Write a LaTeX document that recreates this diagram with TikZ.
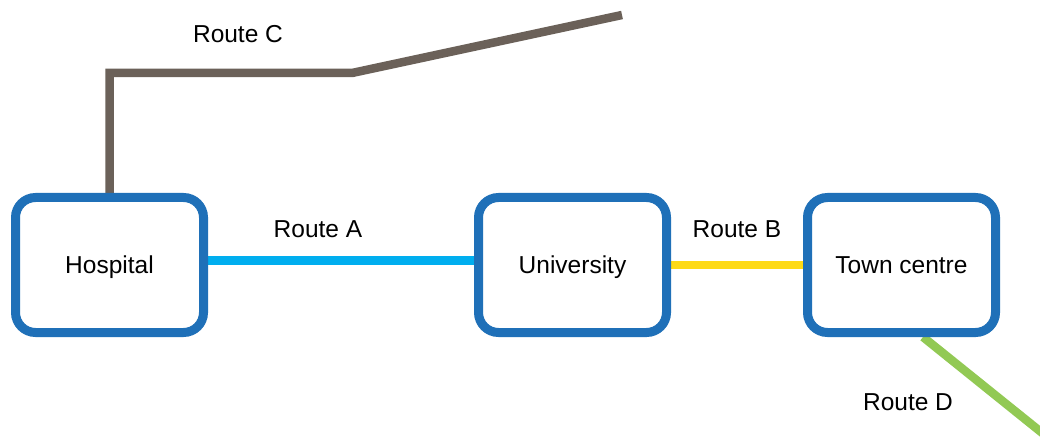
\documentclass[tikz,border=0pt]{standalone}
\usepackage{fontspec}
\setmainfont{Liberation Sans}
\usetikzlibrary{backgrounds}
\definecolor{boxblue}{RGB}{31,112,184}
\definecolor{routea}{RGB}{0,174,239}
\definecolor{routeb}{RGB}{254,218,22}
\definecolor{routec}{RGB}{107,97,89}
\definecolor{routed}{RGB}{146,201,84}
\tikzset{
  stop/.style={draw=boxblue, line width=9pt, fill=white, rounded corners=20pt,
    minimum width=188pt, minimum height=135pt, inner sep=0pt,
    font=\fontsize{24.5}{28}\selectfont, text height=17.5pt, text depth=0pt},
  routelabel/.style={font=\fontsize{24.5}{28}\selectfont, anchor=base, inner sep=0pt},
  route/.style={line width=8.5pt}
}
\begin{document}
\begin{tikzpicture}[x=1pt,y=-1pt]
\useasboundingbox (0,0) rectangle (1040,438);
\clip (0,0) rectangle (1040,438);
\node[stop] (hosp) at (109.5,265) {Hospital};
\node[stop] (univ) at (572.5,265) {University};
\node[stop] (town) at (901.5,265) {Town centre};
\coordinate (c1) at (109.5,73);
\coordinate (c2) at (352,73);
\coordinate (c3) at (622,15);
\coordinate (d1) at (1060,447.3);
\begin{scope}[on background layer]
\fill[white] (0,0) rectangle (1040,438);
\draw[route, routea] ([yshift=4.5pt]hosp.east) -- ([yshift=4.5pt]univ.west);
\draw[route, routeb] (univ.east) -- (town.west);
\draw[route, routec] (hosp.north) -- (c1) -- (c2) -- (c3);
\draw[route, routed] ([xshift=21.5pt]town.south) -- (d1);
\end{scope}
\node[routelabel] (lc) at (238,43) {Route C};
\node[routelabel] (la) at (318,237) {Route A};
\node[routelabel] (lb) at (737,237) {Route B};
\node[routelabel] (ld) at (908,410) {Route D};
\end{tikzpicture}
\end{document}
